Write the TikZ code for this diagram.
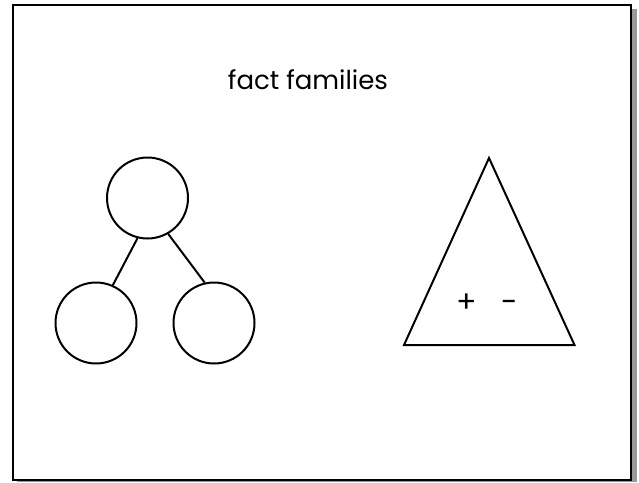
\documentclass[tikz,border=0pt]{standalone}
\usepackage{fontspec}
\setmainfont{Poppins}
\begin{document}
\begin{tikzpicture}[x=1pt,y=-1pt,
  ln/.style={line width=2pt, black},
  cnode/.style={circle, draw, line width=2pt, minimum size=81pt, inner sep=0pt},
  lbl/.style={font=\fontsize{30}{34}\selectfont, inner sep=0pt, anchor=base}]
\useasboundingbox (0,0) rectangle (639,482);
\fill[gray!80] (17,9) rectangle (637,482);
\draw[line width=2pt, fill=white] (13,5) rectangle (631,480);
\node[font=\fontsize{26}{30}\selectfont, inner sep=0pt] (title) at (308,80) {fact families};
\node[cnode] (top) at (147.5,198) {};
\node[cnode] (bl) at (96,323) {};
\node[cnode] (br) at (214,323) {};
\draw[ln] (top.256) -- (bl.66);
\draw[ln] (top.300) -- (br.103);
\coordinate (apex) at (489,158);
\coordinate (bleft) at (404,345);
\coordinate (bright) at (574.5,345);
\draw[ln, line join=miter] (apex) -- (bright) -- (bleft) -- cycle;
\node[lbl] (plus) at (466.5,312) {+};
\node[lbl] (minus) at (510,312) {-};
\end{tikzpicture}
\end{document}
